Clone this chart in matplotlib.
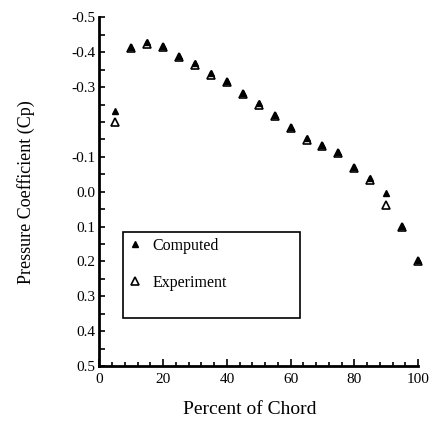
import numpy as np
import matplotlib
matplotlib.use("Agg")
from matplotlib import pyplot as plt
from matplotlib.patches import Rectangle
from matplotlib.ticker import MultipleLocator, FixedLocator, FixedFormatter

# pressure distribution along the chord
chord = [5, 10, 15, 20, 25, 30, 35, 40, 45, 50, 55, 60, 65, 70, 75, 80, 85, 90, 95, 100]
cp_computed = [-0.232, -0.416, -0.429, -0.418, -0.390, -0.369, -0.340, -0.319, -0.283, -0.254,
               -0.220, -0.187, -0.153, -0.134, -0.115, -0.072, -0.039, 0.003, 0.098, 0.196]
cp_experiment = [-0.201, -0.412, -0.425, -0.414, -0.386, -0.365, -0.336, -0.315, -0.279, -0.250,
                 -0.216, -0.183, -0.149, -0.130, -0.111, -0.068, -0.035, 0.038, 0.102, 0.200]

y_ticks = [-0.5, -0.4, -0.3, -0.2, -0.1, 0.0, 0.1, 0.2, 0.3, 0.4, 0.5]
y_labels = ['-0.5', '-0.4', '-0.3', '', '-0.1', '0.0', '0.1', '0.2', '0.3', '0.4', '0.5']

plt.rcParams['font.family'] = ['Liberation Serif', 'DejaVu Serif']
plt.rcParams['axes.unicode_minus'] = False

fig = plt.figure(figsize=(4.35, 4.29), dpi=100)
ax = fig.add_axes([0.2287, 0.1469, 0.7322, 0.8124])

ax.plot(chord, cp_experiment, linestyle='none', marker='^', markersize=6.0,
        markerfacecolor='white', markeredgecolor='black', markeredgewidth=1.2,
        clip_on=False, label='Experiment', zorder=3)
ax.plot(chord, cp_computed, linestyle='none', marker='^', markersize=3.8,
        color='black', clip_on=False, label='Computed', zorder=4)

ax.set_xlim(0, 100)
ax.set_ylim(0.5, -0.5)

for side in ['top', 'right']:
    ax.spines[side].set_visible(False)
for side in ['left', 'bottom']:
    ax.spines[side].set_linewidth(2.0)

ax.xaxis.set_major_locator(MultipleLocator(20))
ax.xaxis.set_minor_locator(MultipleLocator(4))
ax.yaxis.set_major_locator(FixedLocator(y_ticks))
ax.yaxis.set_major_formatter(FixedFormatter(y_labels))
ax.yaxis.set_minor_locator(MultipleLocator(0.05))

ax.tick_params(axis='x', which='major', direction='in', length=5, width=1.2, pad=5, labelsize=11)
ax.tick_params(axis='x', which='minor', direction='in', length=3, width=1.2)
ax.tick_params(axis='y', which='both', direction='in', length=4, width=1.2, pad=3, labelsize=11)

ax.set_xlabel('Percent of Chord', fontsize=14, va='center')
ax.xaxis.set_label_coords(0.4725, -0.126)
ax.set_ylabel('Pressure Coefficient (Cp)', fontsize=13, va='center')
ax.yaxis.set_label_coords(-0.232, 0.5)

# legend entries without frame, box drawn separately
handles, labels = ax.get_legend_handles_labels()
ax.legend(handles[::-1], labels[::-1], loc='upper left', bbox_to_anchor=(0.0863, 0.367),
          frameon=False, fontsize=11.5, handlelength=1.0, handletextpad=0.6,
          borderpad=0, borderaxespad=0, labelspacing=1.3)
ax.add_patch(Rectangle((0.0747, 0.1377), 0.5548, 0.2477, transform=ax.transAxes,
                       fill=False, edgecolor='black', linewidth=1.2, clip_on=False))

fig.savefig('out.png', dpi=100)
